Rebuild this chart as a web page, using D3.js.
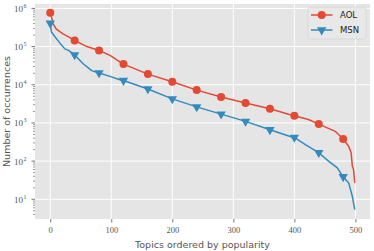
<!DOCTYPE html>
<html>
<head>
  <style>
    body { margin: 0; background: #fff; }
    text { font-family: "DejaVu Sans", sans-serif; }
  </style>
</head>
<body>
  <svg id="svg"></svg>
  <script src="https://d3js.org/d3.v7.min.js"></script>
  <script>
    // rank of the topic and number of occurrences
    let aolRank = [0, 5, 10, 21, 31, 40, 60, 80, 98, 114, 120, 160, 200, 240, 280, 320, 360, 392, 400, 423, 440, 467, 480, 489, 493, 495, 497, 499];
    let aolCount = [773000, 389000, 288000, 214000, 176000, 144000, 100000, 78700, 58900, 39800, 34700, 19000, 12000, 7240, 4790, 3310, 2340, 1660, 1550, 1230, 933, 603, 380, 245, 166, 74, 60, 27];
    let msnRank = [0, 2, 8, 16, 24, 30, 40, 54, 68, 80, 98, 114, 120, 160, 200, 240, 280, 320, 360, 392, 400, 418, 440, 456, 470, 480, 489, 495, 499];
    let msnCount = [407000, 240000, 178000, 123000, 87100, 79400, 60300, 35500, 23400, 20400, 16600, 13500, 12900, 7760, 4270, 2630, 1700, 1100, 661, 447, 417, 269, 166, 100, 67.6, 38.9, 26.9, 12, 5.4];
    let markerRanks = [0, 40, 80, 120, 160, 200, 240, 280, 320, 360, 400, 440, 480];
    let xTicks = [0, 100, 200, 300, 400, 500];
    let yTicks = [1e1, 1e2, 1e3, 1e4, 1e5, 1e6];

    let width = 374, height = 251;
    let plot = { left: 35, right: 370, top: 4, bottom: 219 };
    let colors = { AOL: "#E24A33", MSN: "#348ABD" };

    let svg = d3.select("#svg").attr("width", width).attr("height", height);

    let xScale = d3.scaleLinear().domain([-24.95, 523.95]).range([plot.left, plot.right]);
    let yScale = d3.scaleLog().domain([Math.pow(10, 0.484), Math.pow(10, 6.115)]).range([plot.bottom, plot.top]);

    // background
    svg.append("rect")
      .attr("x", plot.left).attr("y", plot.top)
      .attr("width", plot.right - plot.left).attr("height", plot.bottom - plot.top)
      .attr("fill", "#E5E5E5");

    // grid
    let grid = svg.append("g").attr("stroke", "#fff").attr("stroke-width", 1);
    grid.selectAll(".gx").data(xTicks).join("line")
      .attr("x1", d => xScale(d)).attr("x2", d => xScale(d))
      .attr("y1", plot.top).attr("y2", plot.bottom);
    grid.selectAll(".gy").data(yTicks).join("line")
      .attr("x1", plot.left).attr("x2", plot.right)
      .attr("y1", d => yScale(d)).attr("y2", d => yScale(d));

    // x axis
    let xAxis = svg.append("g")
      .attr("transform", `translate(0, ${plot.bottom})`)
      .call(d3.axisBottom(xScale).tickValues(xTicks).tickSize(3.5).tickPadding(4).tickFormat(d3.format("d")));
    xAxis.select(".domain").remove();
    xAxis.selectAll("line").attr("stroke", "#555").attr("stroke-width", 0.8);
    xAxis.selectAll("text")
      .attr("fill", "#555")
      .style("font-family", "'Liberation Serif', serif")
      .style("font-size", "8.5px");

    // y axis: minor ticks then major ticks with 10^n labels
    let minor = [];
    for (let e = 0; e <= 6; e++) {
      for (let m = 2; m <= 9; m++) {
        let v = m * Math.pow(10, e);
        if (v >= yScale.domain()[0] && v <= yScale.domain()[1]) minor.push(v);
      }
    }
    let yAxis = svg.append("g").attr("transform", `translate(${plot.left}, 0)`);
    yAxis.selectAll(".minor").data(minor).join("line")
      .attr("x1", -2).attr("x2", 0)
      .attr("y1", d => yScale(d)).attr("y2", d => yScale(d))
      .attr("stroke", "#555").attr("stroke-width", 0.6);
    yAxis.selectAll(".major").data(yTicks).join("line")
      .attr("x1", -3.5).attr("x2", 0)
      .attr("y1", d => yScale(d)).attr("y2", d => yScale(d))
      .attr("stroke", "#555").attr("stroke-width", 0.8);
    let yLab = yAxis.selectAll(".lab").data(yTicks).join("text")
      .attr("x", -12).attr("y", d => yScale(d) + 3.5)
      .attr("text-anchor", "end")
      .attr("fill", "#555")
      .style("font-family", "'Liberation Serif', serif")
      .style("font-size", "9px")
      .text("10");
    yAxis.selectAll(".sup").data(yTicks).join("text")
      .attr("x", -11.5).attr("y", d => yScale(d) - 0.5)
      .attr("fill", "#555")
      .style("font-family", "'Liberation Serif', serif")
      .style("font-size", "6px")
      .text(d => Math.round(Math.log10(d)));

    // lines
    let line = d3.line().x(d => xScale(d[0])).y(d => yScale(d[1]));
    let aol = aolRank.map((r, i) => [r, aolCount[i]]);
    let msn = msnRank.map((r, i) => [r, msnCount[i]]);

    svg.append("path").datum(aol).attr("d", line)
      .attr("fill", "none").attr("stroke", colors.AOL).attr("stroke-width", 1.5).attr("stroke-linejoin", "round");
    svg.append("path").datum(msn).attr("d", line)
      .attr("fill", "none").attr("stroke", colors.MSN).attr("stroke-width", 1.5).attr("stroke-linejoin", "round");

    let aolMarks = aol.filter(d => markerRanks.includes(d[0]));
    let msnMarks = msn.filter(d => markerRanks.includes(d[0]));
    let tri = d3.symbol().type(d3.symbolTriangle).size(38);

    svg.append("g").selectAll("circle").data(aolMarks).join("circle")
      .attr("cx", d => xScale(d[0])).attr("cy", d => yScale(d[1]))
      .attr("r", 4).attr("fill", colors.AOL);
    svg.append("g").selectAll("path").data(msnMarks).join("path")
      .attr("d", tri)
      .attr("transform", d => `translate(${xScale(d[0])}, ${yScale(d[1])}) rotate(180)`)
      .attr("fill", colors.MSN);

    // legend
    let legend = svg.append("g").attr("transform", "translate(308, 7)");
    legend.append("rect")
      .attr("width", 58).attr("height", 32).attr("rx", 2)
      .attr("fill", "#E8E8E8").attr("stroke", "#d6d6d6").attr("stroke-width", 0.8);
    let entries = [{ name: "AOL", y: 8 }, { name: "MSN", y: 23 }];
    entries.forEach(e => {
      let g = legend.append("g").attr("transform", `translate(0, ${e.y})`);
      g.append("line").attr("x1", 3).attr("x2", 24.5).attr("y1", 0).attr("y2", 0)
        .attr("stroke", colors[e.name]).attr("stroke-width", 1.5);
      if (e.name === "AOL") {
        g.append("circle").attr("cx", 13.7).attr("cy", 0).attr("r", 4).attr("fill", colors.AOL);
      } else {
        g.append("path").attr("d", tri).attr("transform", "translate(13.7, 0) rotate(180)").attr("fill", colors.MSN);
      }
      g.append("text").attr("x", 32).attr("y", 3).attr("fill", "#222")
        .style("font-size", "8.5px").text(e.name);
    });

    // axis labels
    svg.append("text")
      .attr("x", (plot.left + plot.right) / 2).attr("y", 248)
      .attr("text-anchor", "middle").attr("fill", "#555")
      .style("font-size", "9.5px")
      .text("Topics ordered by popularity");
    svg.append("text")
      .attr("transform", `translate(10, ${(plot.top + plot.bottom) / 2}) rotate(-90)`)
      .attr("text-anchor", "middle").attr("fill", "#555")
      .style("font-size", "9.5px")
      .text("Number of occurrences");
  </script>
</body>
</html>
